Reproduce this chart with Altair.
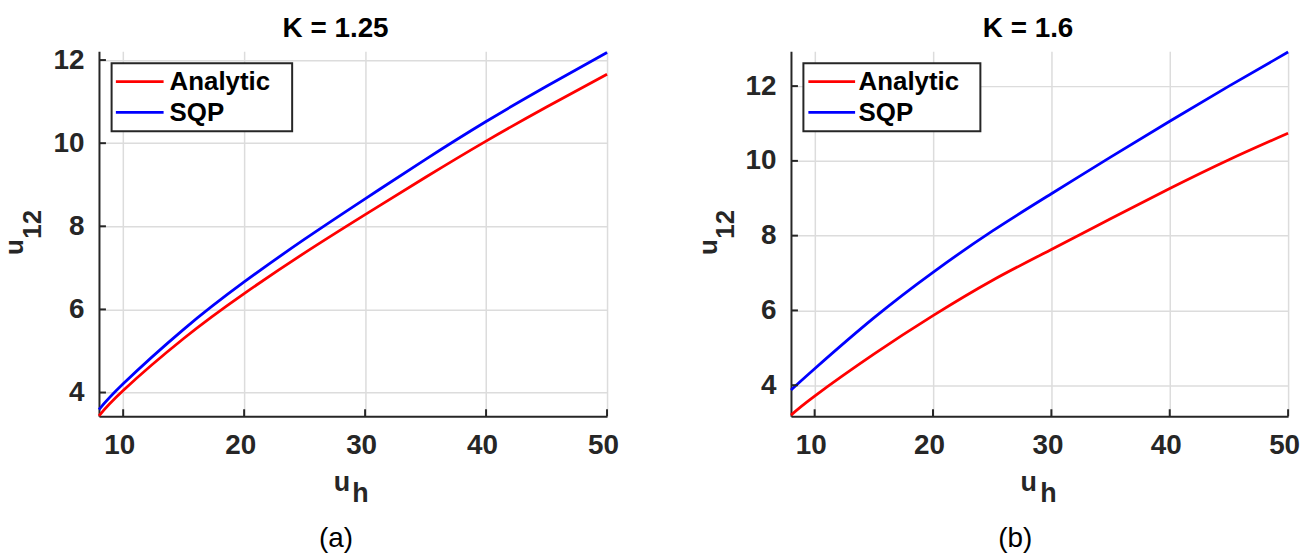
import altair as alt
import pandas as pd

# ---- data ----
x_uh = [8, 10, 15, 20, 25, 30, 35, 40, 45, 50]
a_analytic = [3.44, 4.05, 5.30, 6.38, 7.36, 8.28, 9.18, 10.05, 10.87, 11.66]
a_sqp = [3.59, 4.21, 5.52, 6.66, 7.69, 8.66, 9.61, 10.52, 11.37, 12.18]
b_analytic = [3.20, 3.71, 4.83, 5.86, 6.80, 7.63, 8.45, 9.26, 10.03, 10.74]
b_sqp = [3.87, 4.44, 5.80, 7.02, 8.12, 9.12, 10.10, 11.06, 12.00, 12.91]

series_names = ["Analytic", "SQP"]
series_colors = ["#ff0000", "#0000ff"]
x_ticks = [10, 20, 30, 40, 50]
y_ticks = [4, 6, 8, 10, 12]
x_domain = [8, 50]
a_ydomain = [3.43, 12.21]
b_ydomain = [3.17, 12.93]

FONT = "Liberation Sans"
INK = "#262626"
H = 367

color_scale = alt.Scale(domain=series_names, range=series_colors)


def txt(s, x, y, size, weight="bold", angle=0, color=INK, align="center"):
    return alt.Chart(pd.DataFrame({"t": [s]})).mark_text(
        font=FONT, fontSize=size, fontWeight=weight, angle=angle,
        align=align, baseline="alphabetic", color=color
    ).encode(x=alt.value(x), y=alt.value(y), text="t:N")


ax_common = dict(
    title=None, grid=True, gridColor="#dcdcdc", gridWidth=1.5,
    domainColor=INK, domainWidth=2, ticks=False, tickSize=0,
    labelFont=FONT, labelFontSize=28, labelFontWeight="bold",
    labelColor=INK, labelFlush=False, labelOverlap=False, labelBound=False,
)
x_axis = alt.Axis(values=x_ticks, labelPadding=16, labelOffset=-4, **ax_common)
y_axis = alt.Axis(values=y_ticks, labelPadding=15, **ax_common)


def legend_layers(bx0, bx1, lx0, lx1, tx):
    box = alt.Chart(pd.DataFrame({"k": [0]})).mark_rect(
        fill="white", stroke=INK, strokeWidth=2
    ).encode(x=alt.value(bx0), x2=alt.value(bx1), y=alt.value(12.1), y2=alt.value(80.4))
    out = [box]
    for name, ly, ty in zip(series_names, [30.4, 61.4], [39.2, 70.2]):
        d = pd.DataFrame({"series": [name]})
        out.append(alt.Chart(d).mark_rule(strokeWidth=2.8).encode(
            x=alt.value(lx0), x2=alt.value(lx1), y=alt.value(ly),
            color=alt.Color("series:N", scale=color_scale, legend=None)))
        out.append(alt.Chart(d).mark_text(
            font=FONT, fontSize=26, fontWeight="bold", align="left",
            baseline="alphabetic", color="black"
        ).encode(x=alt.value(tx), y=alt.value(ty), text="series:N"))
    return out


def panel(title, analytic, sqp, ydom, W, cap, t_x, ux, hx, yu_x, y12_x, cap_x, leg):
    df = pd.DataFrame({
        "uh": x_uh + x_uh,
        "u12": analytic + sqp,
        "series": [series_names[0]] * len(x_uh) + [series_names[1]] * len(x_uh),
    })
    xs = alt.Scale(domain=x_domain, nice=False, zero=False)
    ys = alt.Scale(domain=ydom, nice=False, zero=False)
    lines = alt.Chart(df).mark_line(strokeWidth=2.8, interpolate="natural").encode(
        x=alt.X("uh:Q", scale=xs, axis=x_axis),
        y=alt.Y("u12:Q", scale=ys, axis=y_axis),
        color=alt.Color("series:N", scale=color_scale, legend=None),
    )
    xt = alt.Chart(pd.DataFrame({"uh": x_ticks})).mark_rule(color=INK, strokeWidth=2).encode(
        x=alt.X("uh:Q", scale=xs, axis=x_axis), y=alt.value(H), y2=alt.value(H - 7))
    yt = alt.Chart(pd.DataFrame({"u12": y_ticks})).mark_rule(color=INK, strokeWidth=2).encode(
        y=alt.Y("u12:Q", scale=ys, axis=y_axis), x=alt.value(0), x2=alt.value(7))
    texts = [
        txt(title, t_x, -14.5, 28, color="black"),
        txt("u", ux, 442, 27),
        txt("h", hx, 453.7, 27),
        txt("u", yu_x, 197, 26, angle=270),
        txt("12", y12_x, 174, 26, angle=270),
        txt(cap, cap_x, 498.4, 28, weight="normal", color="black"),
    ]
    return alt.layer(lines, xt, yt, *legend_layers(*leg), *texts).properties(width=W, height=H)


left = panel("K = 1.25", a_analytic, a_sqp, a_ydomain, 511, "(a)",
             238, 244.3, 263, -76, -58.5, 238.3, (12.7, 194.3, 17, 65, 71))
right = panel("K = 1.6", b_analytic, b_sqp, b_ydomain, 500, "(b)",
              238.5, 239, 259, -74.5, -57, 225.5, (12.5, 190.5, 17.5, 64.5, 68))

chart = alt.hconcat(left, right, spacing=185, bounds="flush").resolve_scale(
    color="shared").configure_view(stroke=None).properties(
    padding={"left": -5.5, "top": 5, "right": 5, "bottom": 0})

chart.save("out.html", embed_options={"renderer": "svg", "actions": False})
